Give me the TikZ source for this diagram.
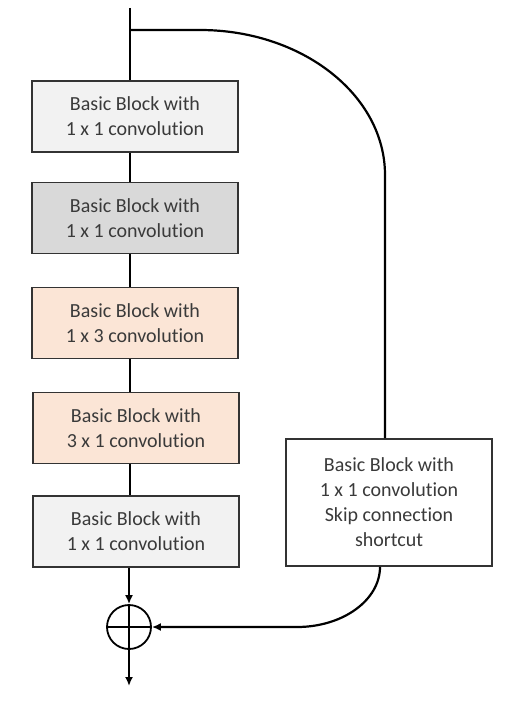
\documentclass[tikz,border=0pt]{standalone}
\usepackage{fontspec}
\setmainfont{Carlito}[Ligatures=NoCommon]
\usetikzlibrary{arrows.meta}
\definecolor{boxline}{HTML}{333333}
\definecolor{txt}{HTML}{3A3A3A}
\definecolor{lightgray}{HTML}{F2F2F2}
\definecolor{midgray}{HTML}{D9D9D9}
\definecolor{peach}{HTML}{FBE5D6}
\begin{document}
\begin{tikzpicture}[x=1pt,y=-1pt,
  block/.style={draw=boxline, line width=1.6pt, minimum width=206pt,
    minimum height=71pt, align=center, text=txt, inner sep=0pt,
    font=\fontsize{20}{25}\selectfont},
  wire/.style={line width=2.2pt, black},
  tip/.style={-{Latex[length=9pt,width=8pt]}}]
\useasboundingbox[fill=white] (0,0) rectangle (509,706);

% main path blocks
\node[block, fill=lightgray] (b1) at (135,116.5) {Basic Block with\\1 x 1 convolution};
\node[block, fill=midgray]   (b2) at (135,218)   {Basic Block with\\1 x 1 convolution};
\node[block, fill=peach]     (b3) at (135,323)   {Basic Block with\\1 x 3 convolution};
\node[block, fill=peach]     (b4) at (136,428)   {Basic Block with\\3 x 1 convolution};
\node[block, fill=lightgray] (b5) at (136,531.5) {Basic Block with\\1 x 1 convolution};

% shortcut block
\node[block, fill=white, minimum height=127pt] (sc) at (389,502.5)
  {Basic Block with\\1 x 1 convolution\\Skip connection\\shortcut};

% adder
\node[draw=black, line width=1.8pt, circle, minimum size=44pt, inner sep=0pt] (sum) at (129,627) {};
\draw[line width=1.8pt] (sum.north) -- (sum.south) (sum.west) -- (sum.east);

\coordinate (in) at (130,8);
\coordinate (split) at (130,30);
\coordinate (out) at (129,686);

% trunk
\draw[wire] (in) -- (b1.north -| in);
\draw[wire] (b1.south -| in) -- (b2.north -| in);
\draw[wire] (b2.south -| in) -- (b3.north -| in);
\draw[wire] (b3.south -| in) -- (b4.north -| in);
\draw[wire] (b4.south -| in) -- (b5.north -| in);
\draw[wire, tip] (b5.south -| sum) -- (sum.north);
\draw[wire, tip] (sum.south) -- (out);

% shortcut branch
\draw[wire] (split) -- (200,30) .. controls (302,30) and (385,95) .. (385,175)
  -- (sc.north -| 385,0);
\draw[wire, tip] (sc.south -| 380,0) .. controls (380,600) and (343,627) .. (297,627)
  -- (sum.east);
\end{tikzpicture}
\end{document}
